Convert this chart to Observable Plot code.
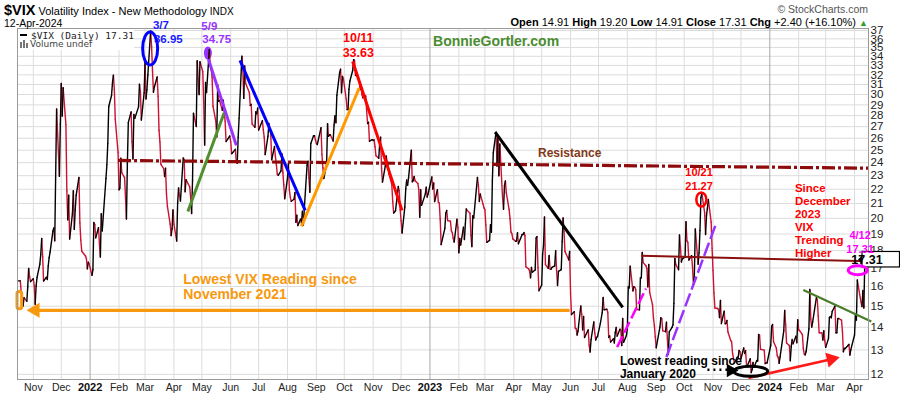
<!DOCTYPE html>
<html><head><meta charset="utf-8">
<script src="https://cdn.jsdelivr.net/npm/d3@7"></script>
<script src="https://cdn.jsdelivr.net/npm/@observablehq/plot@0.6"></script>
<style>
body{margin:0;background:#fff;}
#wrap{position:relative;width:900px;height:396px;font-family:"Liberation Sans",Arial,sans-serif;color:#000;}
.hd{position:absolute;white-space:nowrap;}
</style></head><body><div id="wrap"></div>
<script>
// ---- VIX daily closes ----
const vix2021 = [["10-15",16.30],["10-18",16.30],["10-19",15.70],["10-20",15.49],["10-21",15.01],["10-22",15.43],["10-25",15.24],["10-26",15.98],["10-27",16.98],["10-28",16.53],["10-29",16.26],
["11-01",16.41],["11-02",16.03],["11-03",15.10],["11-04",16.03],["11-05",16.48],["11-08",17.22],["11-09",17.78],["11-10",18.73],["11-11",17.66],["11-12",16.29],["11-15",16.49],["11-16",16.37],["11-17",17.11],["11-18",17.59],["11-19",17.91],["11-22",19.17],["11-23",19.38],["11-24",18.58],["11-26",28.62],["11-29",22.96],["11-30",27.19],
["12-01",31.12],["12-02",27.95],["12-03",30.67],["12-06",27.18],["12-07",21.89],["12-08",19.90],["12-09",21.58],["12-10",18.69],["12-13",20.31],["12-14",21.89],["12-15",19.29],["12-16",20.57],["12-17",21.57],["12-20",22.87],["12-21",19.70],["12-22",18.63],["12-23",17.96],["12-27",17.68],["12-28",17.54],["12-29",16.95],["12-30",17.33],["12-31",17.22]];
const vix2022 = [["01-03",16.60],["01-04",16.91],["01-05",19.73],["01-06",19.61],["01-07",18.76],["01-10",19.40],["01-11",18.41],["01-12",17.62],["01-13",20.31],["01-14",19.19],["01-18",22.79],["01-19",23.85],["01-20",25.59],["01-21",28.85],["01-24",29.90],["01-25",31.16],["01-26",31.96],["01-27",30.49],["01-28",27.66],["01-31",24.83],
["02-01",21.96],["02-02",22.09],["02-03",24.35],["02-04",23.22],["02-07",22.86],["02-08",21.44],["02-09",19.96],["02-10",23.91],["02-11",27.36],["02-14",28.33],["02-15",25.70],["02-16",24.29],["02-17",28.11],["02-18",27.75],["02-22",28.81],["02-23",31.02],["02-24",30.32],["02-25",27.59],["02-28",30.15],
["03-01",33.32],["03-02",29.57],["03-03",30.48],["03-04",31.98],["03-07",36.95],["03-08",35.13],["03-09",32.45],["03-10",30.23],["03-11",30.75],["03-14",31.77],["03-15",29.83],["03-16",26.67],["03-17",25.67],["03-18",23.87],["03-21",23.53],["03-22",22.94],["03-23",23.57],["03-24",21.67],["03-25",20.81],["03-28",19.63],["03-29",18.90],["03-30",19.33],["03-31",20.56],
["04-01",19.63],["04-04",18.57],["04-05",21.03],["04-06",22.10],["04-07",21.55],["04-08",21.16],["04-11",24.37],["04-12",24.26],["04-13",21.82],["04-14",22.70],["04-18",22.17],["04-19",21.37],["04-20",20.32],["04-21",22.68],["04-22",28.21],["04-25",27.02],["04-26",33.52],["04-27",31.60],["04-28",29.99],["04-29",33.40],
["05-02",32.34],["05-03",29.25],["05-04",25.42],["05-05",31.20],["05-06",30.19],["05-09",34.75],["05-10",32.99],["05-11",32.56],["05-12",31.77],["05-13",28.87],["05-16",27.47],["05-17",26.10],["05-18",30.96],["05-19",29.35],["05-20",29.43],["05-23",28.48],["05-24",29.45],["05-25",28.37],["05-26",27.50],["05-27",25.72],["05-31",26.19],
["06-01",25.69],["06-02",24.72],["06-03",24.79],["06-06",25.07],["06-07",24.02],["06-08",23.96],["06-09",26.09],["06-10",27.75],["06-13",34.02],["06-14",32.69],["06-15",29.62],["06-16",32.95],["06-17",31.13],["06-21",30.19],["06-22",28.95],["06-23",29.05],["06-24",27.23],["06-27",26.95],["06-28",28.36],["06-29",28.16],["06-30",28.71],
["07-01",26.70],["07-05",27.54],["07-06",26.73],["07-07",26.08],["07-08",24.64],["07-11",26.17],["07-12",27.29],["07-13",26.82],["07-14",26.40],["07-15",24.23],["07-18",25.30],["07-19",24.50],["07-20",23.88],["07-21",23.11],["07-22",23.03],["07-25",23.36],["07-26",24.69],["07-27",23.24],["07-28",22.33],["07-29",21.33],
["08-01",22.84],["08-02",23.93],["08-03",21.95],["08-04",21.44],["08-05",21.15],["08-08",21.29],["08-09",21.77],["08-10",19.74],["08-11",20.20],["08-12",19.53],["08-15",19.95],["08-16",19.69],["08-17",20.47],["08-18",19.56],["08-19",20.60],["08-22",23.80],["08-23",24.11],["08-24",22.82],["08-25",21.78],["08-26",25.56],["08-29",26.21],["08-30",26.21],["08-31",25.87],
["09-01",25.56],["09-02",25.47],["09-06",26.91],["09-07",24.64],["09-08",23.61],["09-09",22.79],["09-12",23.87],["09-13",27.27],["09-14",26.16],["09-15",26.27],["09-16",26.30],["09-19",25.76],["09-20",27.16],["09-21",27.99],["09-22",27.35],["09-23",29.92],["09-26",32.26],["09-27",32.60],["09-28",30.18],["09-29",31.84],["09-30",31.62],
["10-03",29.59],["10-04",28.55],["10-05",28.55],["10-06",30.52],["10-07",31.36],["10-10",32.45],["10-11",33.63],["10-12",33.57],["10-13",31.94],["10-14",32.02],["10-17",31.37],["10-18",30.50],["10-19",30.76],["10-20",29.98],["10-21",29.69],["10-24",29.85],["10-25",28.46],["10-26",27.28],["10-27",27.39],["10-28",25.75],["10-31",25.88],
["11-01",25.81],["11-02",25.86],["11-03",25.30],["11-04",24.55],["11-07",24.35],["11-08",25.54],["11-09",26.09],["11-10",23.53],["11-11",22.52],["11-14",23.73],["11-15",24.54],["11-16",24.11],["11-17",23.93],["11-18",23.12],["11-21",22.36],["11-22",21.13],["11-23",20.35],["11-25",20.50],["11-28",22.21],["11-29",21.89],["11-30",20.58],
["12-01",19.84],["12-02",19.06],["12-05",20.75],["12-06",22.03],["12-07",22.68],["12-08",22.29],["12-09",22.83],["12-12",25.00],["12-13",22.55],["12-14",22.64],["12-15",22.94],["12-16",22.62],["12-19",22.42],["12-20",21.97],["12-21",20.07],["12-22",21.97],["12-23",20.87],["12-27",21.65],["12-28",22.14],["12-29",21.44],["12-30",21.67]];
const vix2023 = [["01-03",22.90],["01-04",22.01],["01-05",22.46],["01-06",21.13],["01-09",21.97],["01-10",21.09],["01-11",21.03],["01-12",19.95],["01-13",18.35],["01-17",19.36],["01-18",20.34],["01-19",20.52],["01-20",19.85],["01-23",19.81],["01-24",19.20],["01-25",19.08],["01-26",18.73],["01-27",18.51],["01-30",19.94],["01-31",19.40],
["02-01",17.87],["02-02",18.73],["02-03",18.33],["02-06",19.43],["02-07",18.66],["02-08",19.63],["02-09",20.63],["02-10",20.53],["02-13",20.34],["02-14",18.91],["02-15",18.23],["02-16",20.17],["02-17",20.02],["02-21",22.87],["02-22",22.29],["02-23",21.14],["02-24",21.67],["02-27",20.95],["02-28",20.70],
["03-01",20.58],["03-02",19.59],["03-03",18.49],["03-06",18.61],["03-07",19.59],["03-08",19.11],["03-09",22.61],["03-10",24.80],["03-13",26.52],["03-14",23.73],["03-15",26.14],["03-16",22.99],["03-17",25.51],["03-20",21.38],["03-21",20.61],["03-22",22.26],["03-23",22.61],["03-24",21.74],["03-27",20.60],["03-28",19.97],["03-29",19.12],["03-30",19.02],["03-31",18.70],
["04-03",18.55],["04-04",18.58],["04-05",19.08],["04-06",18.40],["04-10",18.97],["04-11",18.97],["04-12",19.09],["04-13",18.91],["04-14",17.07],["04-17",16.95],["04-18",16.83],["04-19",16.46],["04-20",17.03],["04-21",16.77],["04-24",16.89],["04-25",18.76],["04-26",18.84],["04-27",17.03],["04-28",15.78],
["05-01",16.08],["05-02",17.78],["05-03",18.34],["05-04",20.09],["05-05",17.19],["05-08",16.98],["05-09",17.71],["05-10",16.94],["05-11",16.93],["05-12",17.03],["05-15",17.12],["05-16",17.99],["05-17",16.87],["05-18",16.05],["05-19",16.81],["05-22",16.91],["05-23",18.53],["05-24",20.03],["05-25",19.14],["05-26",17.95],["05-30",17.46],["05-31",17.94],
["06-01",15.65],["06-02",14.60],["06-05",14.73],["06-06",13.96],["06-07",13.94],["06-08",13.65],["06-09",13.83],["06-12",15.01],["06-13",14.61],["06-14",13.88],["06-15",14.50],["06-16",13.54],["06-20",13.88],["06-21",13.20],["06-22",12.91],["06-23",13.44],["06-26",14.25],["06-27",13.74],["06-28",13.43],["06-29",13.54],["06-30",13.59],
["07-03",14.18],["07-05",14.69],["07-06",15.44],["07-07",14.83],["07-10",14.85],["07-11",14.71],["07-12",13.54],["07-13",13.61],["07-14",13.34],["07-17",13.48],["07-18",13.30],["07-19",13.76],["07-20",13.99],["07-21",13.60],["07-24",13.91],["07-25",13.86],["07-26",13.19],["07-27",14.41],["07-28",13.33],["07-31",13.63],
["08-01",13.93],["08-02",15.99],["08-03",15.92],["08-04",17.10],["08-07",15.77],["08-08",15.99],["08-09",15.96],["08-10",15.85],["08-11",14.84],["08-14",14.82],["08-15",16.46],["08-16",16.46],["08-17",17.89],["08-18",17.30],["08-21",17.13],["08-22",16.97],["08-23",15.98],["08-24",17.20],["08-25",15.68],["08-28",15.08],["08-29",14.45],["08-30",14.09],["08-31",13.57],
["09-01",13.09],["09-05",14.02],["09-06",14.45],["09-07",14.40],["09-08",13.84],["09-11",13.80],["09-12",14.23],["09-13",13.48],["09-14",12.82],["09-15",13.79],["09-18",14.00],["09-19",14.11],["09-20",15.14],["09-21",17.54],["09-22",17.20],["09-25",16.90],["09-26",18.94],["09-27",18.22],["09-28",17.34],["09-29",17.52],
["10-02",17.61],["10-03",19.78],["10-04",18.58],["10-05",18.49],["10-06",17.45],["10-09",17.70],["10-10",17.03],["10-11",16.09],["10-12",16.69],["10-13",19.32],["10-16",17.21],["10-17",17.88],["10-18",19.22],["10-19",21.40],["10-20",21.71],["10-23",20.37],["10-24",18.97],["10-25",20.19],["10-26",20.68],["10-27",21.27],["10-30",19.75],["10-31",18.14],
["11-01",16.87],["11-02",15.66],["11-03",14.91],["11-06",14.89],["11-07",14.81],["11-08",14.45],["11-09",15.29],["11-10",14.17],["11-13",14.76],["11-14",14.16],["11-15",14.18],["11-16",14.32],["11-17",13.80],["11-20",13.41],["11-21",13.35],["11-22",12.85],["11-24",12.46],["11-27",12.69],["11-28",12.69],["11-29",12.98],["11-30",12.92],
["12-01",12.63],["12-04",13.08],["12-05",12.85],["12-06",12.97],["12-07",12.35],["12-08",12.35],["12-11",12.63],["12-12",12.07],["12-13",12.19],["12-14",12.48],["12-15",12.28],["12-18",12.56],["12-19",12.53],["12-20",13.67],["12-21",13.65],["12-22",13.03],["12-26",12.99],["12-27",12.43],["12-28",12.47],["12-29",12.45]];
const vix2024 = [["01-02",13.20],["01-03",14.04],["01-04",14.13],["01-05",13.35],["01-08",13.08],["01-09",12.76],["01-10",12.69],["01-11",12.44],["01-12",12.70],["01-16",13.84],["01-17",14.79],["01-18",14.13],["01-19",13.30],["01-22",13.19],["01-23",12.55],["01-24",13.14],["01-25",13.45],["01-26",13.26],["01-29",13.60],["01-30",13.31],["01-31",14.35],
["02-01",13.88],["02-02",13.85],["02-05",13.67],["02-06",13.06],["02-07",12.83],["02-08",12.79],["02-09",12.93],["02-12",13.93],["02-13",15.85],["02-14",14.38],["02-15",14.01],["02-16",14.24],["02-20",15.42],["02-21",15.34],["02-22",14.54],["02-23",13.75],["02-26",13.74],["02-27",13.43],["02-28",13.84],["02-29",13.40],
["03-01",13.11],["03-04",13.49],["03-05",14.46],["03-06",14.50],["03-07",14.44],["03-08",14.74],["03-11",15.01],["03-12",13.75],["03-13",13.75],["03-14",14.40],["03-15",14.41],["03-18",14.33],["03-19",13.82],["03-20",12.92],["03-21",13.06],["03-22",13.06],["03-25",13.19],["03-26",13.24],["03-27",12.78],["03-28",13.01],
["04-01",13.65],["04-02",14.61],["04-03",14.33],["04-04",16.35],["04-05",16.03],["04-08",15.19],["04-09",14.98],["04-10",15.80],["04-11",14.91],["04-12",17.31]];

// ---- axis ticks / labels ----
const yTicks = [12,13,14,15,16,17,18,19,20,21,22,23,24,25,26,27,28,29,30,31,32,33,34,35,36,37];
const monthTicks = ["2021-11-01","2021-12-01","2022-01-01","2022-02-01","2022-03-01","2022-04-01","2022-05-01","2022-06-01","2022-07-01","2022-08-01","2022-09-01","2022-10-01","2022-11-01","2022-12-01","2023-01-01","2023-02-01","2023-03-01","2023-04-01","2023-05-01","2023-06-01","2023-07-01","2023-08-01","2023-09-01","2023-10-01","2023-11-01","2023-12-01","2024-01-01","2024-02-01","2024-03-01","2024-04-01"];
const monthLabels = ["Nov","Dec","2022","Feb","Mar","Apr","May","Jun","Jul","Aug","Sep","Oct","Nov","Dec","2023","Feb","Mar","Apr","May","Jun","Jul","Aug","Sep","Oct","Nov","Dec","2024","Feb","Mar","Apr"];
const lastClose = 17.31;

// ---- annotations (date, value) ----
const resistanceLine = [{x1:"2022-01-31",y1:24.18,x2:"2024-04-16",y2:23.57}];
const greenLine1 = [{x1:"2022-04-16",y1:20.46,x2:"2022-05-25",y2:28.26}];
const purpleLine1 = [{x1:"2022-05-08",y1:33.7,x2:"2022-06-07",y2:25.4}];
const blueLine1 = [{x1:"2022-06-11",y1:33.54,x2:"2022-08-20",y2:20.53}];
const orangeLine1 = [{x1:"2022-08-16",y1:19.48,x2:"2022-10-17",y2:30.65}];
const redLine1 = [{x1:"2022-10-10",y1:33.43,x2:"2022-12-02",y2:20.53}];
const blackLine1 = [{x1:"2023-03-12",y1:26.52,x2:"2023-07-27",y2:14.94}];
const orangeArrow = [{x1:"2021-11-03",y1:14.8,x2:"2023-05-31",y2:14.8}];
const magentaDash = [{x1:"2023-07-21",y1:13.12,x2:"2023-08-21",y2:15.89}];
const purpleDash = [{x1:"2023-09-12",y1:12.70,x2:"2023-11-04",y2:19.61}];
const darkRedLine = [{x1:"2023-08-16",y1:17.69,x2:"2024-04-16",y2:17.38}];
const greenLine2 = [{x1:"2024-02-06",y1:15.82,x2:"2024-04-19",y2:14.27}];
const redArrow = [{x1:"2023-12-09",y1:11.86,x2:"2024-03-07",y2:12.61}];
const dottedLine = [{x1:"2023-10-26",y1:12.18,x2:"2023-11-16",y2:12.18}];
const bracket = [{x1:"2021-10-15",x2:"2021-10-20",y1:14.85,y2:15.72}];
const ellipsesOpen = [
  {date:"2022-03-07",value:34.83,rx:7.5,ry:16.5,color:"#0000ff",w:3},
  {date:"2023-10-20",value:21.24,rx:5,ry:7,color:"#ff0000",w:2.5},
  {date:"2023-12-12",value:12.10,rx:17,ry:5,color:"#000000",w:3}];
const ellipsesTop = [{date:"2024-04-05",value:16.85,rx:9.5,ry:4.5,color:"#ff00ff",w:3}];
const ellipsesFilled = [{date:"2022-05-08",value:34.3,rx:4,ry:6.5,color:"#9933ff"}];

const toD = s => new Date(s);
const pts = (y, arr) => arr.map(([md, v]) => ({date: new Date(`${y}-${md}`), value: v}));
const series = [...pts(2021, vix2021), ...pts(2022, vix2022), ...pts(2023, vix2023), ...pts(2024, vix2024)];
const segs = d3.pairs(series, (a, b) => ({x1: a.date, y1: a.value, x2: b.date, y2: b.value, up: b.value >= a.value}));
const linkOf = (arr, o) => Plot.link(arr, {x1: d => toD(d.x1), y1: "y1", x2: d => toD(d.x2), y2: "y2", strokeLinecap: "butt", ...o});

const labelMap = new Map(monthTicks.map((t, i) => [+toD(t), monthLabels[i]]));
const isYear = t => /^\d{4}$/.test(labelMap.get(+toD(t)));
const plainTicks = monthTicks.filter(t => !isYear(t)).map(toD);
const yearTicks = monthTicks.filter(isYear).map(toD);

function ellipseMark(list, filled) {
  return (index, scales) => {
    const g = d3.create("svg:g");
    for (const e of list) {
      g.append("ellipse")
        .attr("cx", scales.x(toD(e.date))).attr("cy", scales.y(e.value))
        .attr("rx", e.rx).attr("ry", e.ry)
        .attr("fill", filled ? e.color : "none")
        .attr("stroke", filled ? "none" : e.color)
        .attr("stroke-width", e.w || 0);
    }
    return g.node();
  };
}
function priceBox(index, scales, values, dims) {
  const y = scales.y(lastClose);
  const x0 = dims.width - dims.marginRight - 6;
  const g = d3.create("svg:g");
  g.append("path").attr("d", `M${x0 - 4},${y - 2.5}L${x0},${y - 6.5}L${x0},${y + 1.5}Z`).attr("fill", "#000");
  g.append("rect").attr("x", x0).attr("y", y - 10.5).attr("width", 37.5).attr("height", 15.5)
    .attr("fill", "#fff").attr("stroke", "#000").attr("stroke-width", 1.2);
  g.append("text").attr("x", x0 + 5).attr("y", y + 2).attr("font-weight", "bold")
    .attr("font-size", 12.5).attr("fill", "#000").text(lastClose.toFixed(2));
  return g.node();
}

const bold = {fontWeight: "bold", fontFamily: "'Liberation Sans', Arial, sans-serif"};
const T = (date, value, text) => ({date: toD(date), value, text});

const chart = Plot.plot({
  width: 900, height: 396,
  marginTop: 28, marginBottom: 17, marginLeft: 17, marginRight: 32,
  x: {type: "utc", domain: [toD("2021-10-15"), toD("2024-04-16")], axis: null, label: null},
  y: {type: "log", domain: [11.8, 37.24], axis: null, label: null},
  style: {fontFamily: "'Liberation Sans', Arial, sans-serif", fontSize: "11px", background: "transparent", overflow: "visible"},
  marks: [
    Plot.gridY({ticks: yTicks, stroke: "#dcdcdc", strokeOpacity: 1}),
    Plot.gridX({ticks: plainTicks, stroke: "#dcdcdc", strokeOpacity: 1}),
    Plot.gridX({ticks: yearTicks, stroke: "#a8a8a8", strokeOpacity: 1}),
    ellipseMark(ellipsesFilled, true),
    Plot.link(segs.filter(d => !d.up), {x1: "x1", y1: "y1", x2: "x2", y2: "y2", stroke: "#cc1133", strokeWidth: 1.4, strokeLinecap: "round"}),
    Plot.link(segs.filter(d => d.up), {x1: "x1", y1: "y1", x2: "x2", y2: "y2", stroke: "#000", strokeWidth: 1.4, strokeLinecap: "round"}),
    linkOf(resistanceLine, {stroke: "#8f0a0a", strokeWidth: 3.2, strokeDasharray: "13,3,3,3"}),
    linkOf(greenLine1, {stroke: "#4f8f2f", strokeWidth: 3}),
    linkOf(purpleLine1, {stroke: "#9933ff", strokeWidth: 3}),
    linkOf(blueLine1, {stroke: "#0000ff", strokeWidth: 3}),
    linkOf(orangeLine1, {stroke: "#ff9900", strokeWidth: 3}),
    linkOf(redLine1, {stroke: "#ff0000", strokeWidth: 3}),
    linkOf(blackLine1, {stroke: "#000", strokeWidth: 3}),
    linkOf(orangeArrow, {stroke: "#f7990f", strokeWidth: 3.2}),
    linkOf(magentaDash, {stroke: "#ff00ff", strokeWidth: 2.5, strokeDasharray: "12,4"}),
    linkOf(purpleDash, {stroke: "#9933ff", strokeWidth: 2.5, strokeDasharray: "14,4"}),
    linkOf(darkRedLine, {stroke: "#8b1010", strokeWidth: 2}),
    linkOf(greenLine2, {stroke: "#4a7d2a", strokeWidth: 2.2}),
    linkOf(redArrow, {stroke: "#ff1a1a", strokeWidth: 2.5}),
    linkOf(dottedLine, {stroke: "#000", strokeWidth: 2.5, strokeDasharray: "2,4"}),
    Plot.rect(bracket, {x1: d => toD(d.x1), x2: d => toD(d.x2), y1: "y1", y2: "y2", fill: "none", stroke: "#f7990f", strokeWidth: 3, rx: 2}),
    Plot.dot([T("2021-11-03", 14.8, "")], {x: "date", y: "value", symbol: "triangle", r: 5.6, fill: "#f7990f", rotate: -90}),
    Plot.dot([T("2024-03-07", 12.61, "")], {x: "date", y: "value", symbol: "triangle", r: 5.6, fill: "#ff1a1a", rotate: 77.4}),
    Plot.dot([T("2023-11-20", 12.15, "")], {x: "date", y: "value", symbol: "triangle", r: 5, fill: "#000", rotate: 90}),
    ellipseMark(ellipsesOpen, false),
    Plot.frame({stroke: "#9a9a9a"}),
    Plot.axisY({ticks: yTicks, anchor: "right", tickSize: 0, tickPadding: 2, tickFormat: d => String(d), fontSize: 11.5, fontFamily: "'Liberation Sans Narrow', 'Liberation Sans', Arial, sans-serif", fill: "#222", label: null}),
    Plot.axisX({ticks: plainTicks, anchor: "bottom", tickSize: 0, tickPadding: 4, tickFormat: d => labelMap.get(+d), fontSize: 10.5, fill: "#222", label: null}),
    Plot.axisX({ticks: yearTicks, anchor: "bottom", tickSize: 0, tickPadding: 4, tickFormat: d => labelMap.get(+d), fontSize: 11, fontWeight: "bold", fill: "#111", label: null}),
    Plot.text([T("2022-03-18", 37.6, "3/7"), T("2022-03-26", 35.9, "36.95")], {x: "date", y: "value", text: "text", fill: "#1a1aff", fontSize: 11.5, ...bold}),
    Plot.text([T("2022-05-09", 37.5, "5/9"), T("2022-05-17", 35.9, "34.75")], {x: "date", y: "value", text: "text", fill: "#9933ff", fontSize: 11.5, ...bold}),
    Plot.text([T("2022-10-16", 36.05, "10/11"), T("2022-10-16", 34.4, "33.63")], {x: "date", y: "value", text: "text", fill: "#ff0000", fontSize: 12.5, ...bold}),
    Plot.text([T("2023-03-13", 35.7, "BonnieGortler.com")], {x: "date", y: "value", text: "text", fill: "#4a8c30", fontSize: 14, ...bold}),
    Plot.text([T("2023-04-27", 24.8, "Resistance")], {x: "date", y: "value", text: "text", fill: "#80391a", fontSize: 12, textAnchor: "start", ...bold}),
    Plot.text([T("2022-04-11", 15.98, "Lowest VIX Reading since\nNovember 2021")], {x: "date", y: "value", text: "text", fill: "#f7990f", fontSize: 14, lineHeight: 1.07, textAnchor: "start", ...bold}),
    Plot.text([T("2023-07-24", 12.26, "Lowest reading since\nJanuary 2020")], {x: "date", y: "value", text: "text", fill: "#000", fontSize: 12, lineHeight: 1.08, textAnchor: "start", ...bold}),
    Plot.text([T("2023-10-17", 23.21, "10/21"), T("2023-10-17", 22.2, "21.27")], {x: "date", y: "value", text: "text", fill: "#ff0000", fontSize: 11, ...bold}),
    Plot.text([T("2024-01-28", 19.9, "Since\nDecember\n2023\nVIX\nTrending\nHigher")], {x: "date", y: "value", text: "text", fill: "#ff0000", fontSize: 11.5, lineHeight: 1.13, textAnchor: "start", ...bold}),
    priceBox,
    ellipseMark(ellipsesTop, false),
    Plot.text([T("2024-04-07", 18.91, "4/12"), T("2024-04-07", 18.05, "17.31")], {x: "date", y: "value", text: "text", fill: "#ff00ff", fontSize: 11, ...bold})
  ]
});

const wrap = document.getElementById("wrap");
chart.style.position = "absolute";
chart.style.left = "0px";
chart.style.top = "0px";
wrap.appendChild(chart);
wrap.insertAdjacentHTML("beforeend", `
<div class="hd" style="left:4px;top:2px;font-size:11px;line-height:16px"><b style="font-size:14.5px">$VIX</b> Volatility Index - New Methodology <span style="font-size:10px">INDX</span></div>
<div class="hd" style="left:4px;top:17px;font-size:10.5px;line-height:12px">12-Apr-2024</div>
<div class="hd" style="right:32px;top:3px;font-size:10.5px;line-height:12px;color:#555">&copy; StockCharts.com</div>
<div class="hd" style="right:32px;top:16px;font-size:11px;line-height:13px"><b>Open</b> 14.91 <b>High</b> 19.20 <b>Low</b> 14.91 <b>Close</b> 17.31 <b>Chg</b> +2.40 (+16.10%) <span style="color:#2e9e2e;font-size:9px">&#9650;</span></div>
<div class="hd" style="left:18px;top:29px;width:116px;height:21px;background:#fff"></div>
<div class="hd" style="left:20px;top:34px;width:7px;height:2px;background:#000"></div>
<div class="hd" style="left:31px;top:30px;font-family:'DejaVu Sans Mono',monospace;font-size:9.5px;line-height:12px;color:#222">$VIX (Daily) 17.31</div>
<div class="hd" style="left:20px;top:42px;width:2px;height:6px;background:#777"></div>
<div class="hd" style="left:23px;top:40px;width:2px;height:8px;background:#777"></div>
<div class="hd" style="left:26px;top:43px;width:2px;height:5px;background:#777"></div>
<div class="hd" style="left:30px;top:39px;font-family:'DejaVu Sans',sans-serif;font-size:9px;line-height:11px;color:#444">Volume undef</div>
`);
</script></body></html>
